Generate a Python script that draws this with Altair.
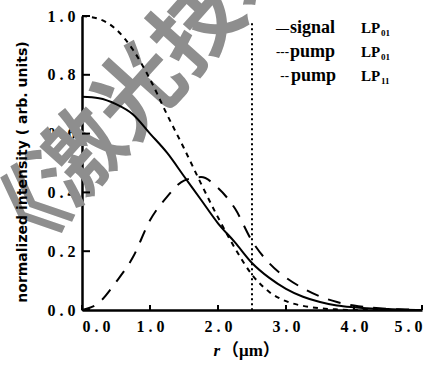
import altair as alt
import pandas as pd

# ---- data ----
r = [0.0, 0.25, 0.5, 0.75, 1.0, 1.25, 1.5, 1.75, 2.0, 2.25, 2.5,
     2.75, 3.0, 3.25, 3.5, 3.75, 4.0, 4.25, 4.5, 4.75, 5.0]
signal_lp01 = [0.725, 0.72, 0.70, 0.665, 0.60, 0.535, 0.455, 0.375, 0.295, 0.23, 0.16,
               0.11, 0.072, 0.045, 0.027, 0.015, 0.009, 0.005, 0.003, 0.001, 0.0]
pump_lp01 = [1.0, 0.99, 0.955, 0.885, 0.785, 0.665, 0.55, 0.43, 0.315, 0.21, 0.12,
             0.062, 0.03, 0.014, 0.006, 0.002, 0.0, 0.0, 0.0, 0.0, 0.0]
pump_lp11 = [0.0, 0.025, 0.095, 0.18, 0.305, 0.385, 0.44, 0.452, 0.415, 0.345, 0.235,
             0.16, 0.11, 0.074, 0.046, 0.027, 0.015, 0.008, 0.004, 0.002, 0.0]
x_ticks = [0, 1, 2, 3, 4, 5]
y_ticks = [0.0, 0.2, 0.4, 0.6, 0.8, 1.0]
core_edge = [2.5]
core_line_top = [0.975]
core_line_bottom = [0.0]

df = pd.DataFrame({"r": r, "signal": signal_lp01, "pump01": pump_lp01, "pump11": pump_lp11})

W, H = 340, 294
L, T = 82, 16

xs = alt.Scale(domain=[0, 5], nice=False, zero=False)
ys = alt.Scale(domain=[0, 1], nice=False)

lab_expr = "replace(format(datum.value, '.1f'), '.', ' . ')"
x_axis = alt.Axis(values=x_ticks, ticks=False, grid=False, domainColor="black", domainWidth=2.5,
                  labelFont="Liberation Serif", labelFontWeight="bold", labelFontSize=16,
                  labelColor="black", labelPadding=8, labelExpr=lab_expr, title=None,
                  labelAlign={"condition": [{"test": "datum.value == 0", "value": "left"},
                                            {"test": "datum.value == 5", "value": "right"}],
                              "value": "center"})
y_axis = alt.Axis(values=y_ticks, ticks=False, grid=False, domainColor="black", domainWidth=2.5,
                  labelFont="Liberation Serif", labelFontWeight="bold", labelFontSize=16,
                  labelColor="black", labelPadding=7, labelExpr=lab_expr, title=None)


def X(f):
    return alt.X(f"{f}:Q", scale=xs, axis=x_axis)


def Y(f):
    return alt.Y(f"{f}:Q", scale=ys, axis=y_axis)


base = alt.Chart(df)
signal = base.mark_line(color="black", strokeWidth=2, interpolate="monotone").encode(x=X("r"), y=Y("signal"))
p01 = base.mark_line(color="black", strokeWidth=2, interpolate="monotone", strokeDash=[5, 5]).encode(x=X("r"), y=Y("pump01"))
p11 = base.mark_line(color="black", strokeWidth=2, interpolate="monotone", strokeDash=[13, 10]).encode(x=X("r"), y=Y("pump11"))

core = alt.Chart(pd.DataFrame({"r": core_edge, "top": core_line_top, "bottom": core_line_bottom})).mark_rule(
    color="black", strokeWidth=2, strokeDash=[2, 3]).encode(x=X("r"), y=Y("top"), y2="bottom:Q")

xt = alt.Chart(pd.DataFrame({"t": x_ticks})).mark_rule(color="black", strokeWidth=2).encode(
    x=X("t"), y=alt.value(H), y2=alt.value(H - 5))
yt = alt.Chart(pd.DataFrame({"t": y_ticks})).mark_rule(color="black", strokeWidth=2).encode(
    y=Y("t"), x=alt.value(0), x2=alt.value(8))

one = pd.DataFrame({"k": [0]})


def txt(s, px, py, **kw):
    return alt.Chart(one).mark_text(text=s, **kw).encode(x=alt.value(px - L), y=alt.value(py - T))


serif = "Liberation Serif"
common = dict(font=serif, fontWeight="bold", baseline="alphabetic", color="black")
layers = [
    txt("《激光技术》", 171, 61, font="Noto Sans CJK SC", fontSize=88, fontWeight="bold",
        color="#8e8e8e", angle=312, align="center", baseline="middle"),
    signal, p01, p11, core, xt, yt,
    # legend
    txt("—", 289, 32, fontSize=13, align="right", **common),
    txt("---", 289, 56, fontSize=13, align="right", **common),
    txt("--", 289, 80, fontSize=13, align="right", **common),
    txt("signal", 290, 33, fontSize=18, align="left", **common),
    txt("pump", 290, 57, fontSize=18, align="left", **common),
    txt("pump", 291, 81, fontSize=18, align="left", **common),
    txt("LP", 361, 33, fontSize=15, align="left", **common),
    txt("LP", 361, 57, fontSize=15, align="left", **common),
    txt("LP", 361, 81, fontSize=15, align="left", **common),
    txt("01", 381, 36, fontSize=9, align="left", **common),
    txt("01", 381, 60, fontSize=9, align="left", **common),
    txt("11", 381, 84, fontSize=9, align="left", **common),
    # axis titles
    txt("normalized intensity ( arb. units)", 27, 172, font="DejaVu Sans", fontSize=14, fontWeight="bold",
        angle=270, align="center", baseline="alphabetic", color="black"),
    txt("r", 220, 356, font=serif, fontSize=17, fontWeight="bold", fontStyle="italic",
        align="right", baseline="alphabetic", color="black"),
    txt("（μm）", 222, 356, font="Liberation Serif, Noto Sans CJK SC", fontSize=17, fontWeight="bold",
        align="left", baseline="alphabetic", color="black"),
]

chart = alt.layer(*layers).properties(
    width=W, height=H, autosize="none",
    padding={"left": L, "top": T, "right": 431 - L - W, "bottom": 374 - T - H},
).configure_view(strokeOpacity=0)

chart.save("out.html", embed_options={"renderer": "svg", "actions": False})
